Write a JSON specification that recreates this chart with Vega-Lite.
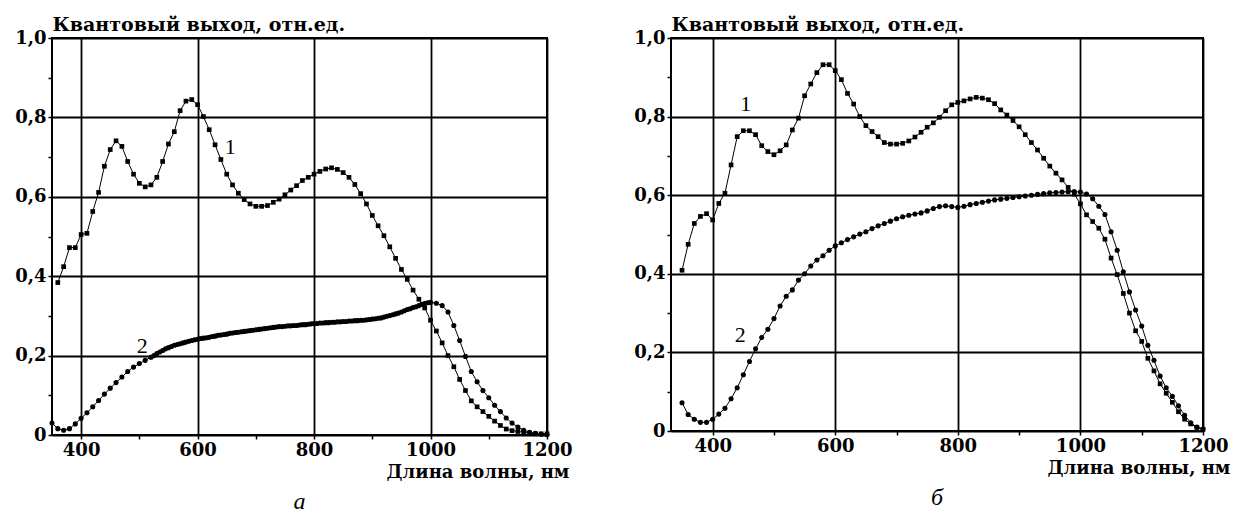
{
"$schema": "https://vega.github.io/schema/vega-lite/v6.json",
"background": "white",
"padding": {"left": 13, "top": 14, "right": 0, "bottom": 0},
"spacing": 58,
"config": {
  "view": {"stroke": "black", "strokeWidth": 2},
  "axis": {"domain": false, "tickColor": "black", "tickSize": 4, "tickWidth": 1.5, "gridColor": "black", "gridWidth": 1.8, "labelFont": "DejaVu Serif", "labelFontWeight": "bold", "labelFontSize": 18, "labelColor": "black", "labelPadding": 2, "titleFont": "DejaVu Serif", "titleFontWeight": "bold", "titleFontSize": 18, "titleColor": "black"},
  "title": {"font": "Liberation Serif", "fontStyle": "italic", "fontWeight": "normal", "fontSize": 24, "color": "black", "orient": "bottom", "anchor": "middle", "offset": 9}
},
"datasets": {
  "a": [
    {"s":"1","wl":360,"q":0.384},{"s":"1","wl":370,"q":0.424},{"s":"1","wl":380,"q":0.472},{"s":"1","wl":390,"q":0.472},{"s":"1","wl":400,"q":0.505},{"s":"1","wl":410,"q":0.508},{"s":"1","wl":420,"q":0.563},{"s":"1","wl":430,"q":0.611},{"s":"1","wl":440,"q":0.677},{"s":"1","wl":450,"q":0.719},{"s":"1","wl":460,"q":0.741},{"s":"1","wl":470,"q":0.727},{"s":"1","wl":480,"q":0.689},{"s":"1","wl":490,"q":0.657},{"s":"1","wl":500,"q":0.634},{"s":"1","wl":510,"q":0.625},{"s":"1","wl":520,"q":0.63},{"s":"1","wl":530,"q":0.649},{"s":"1","wl":540,"q":0.689},{"s":"1","wl":550,"q":0.733},{"s":"1","wl":560,"q":0.764},{"s":"1","wl":570,"q":0.817},{"s":"1","wl":580,"q":0.841},{"s":"1","wl":590,"q":0.845},{"s":"1","wl":600,"q":0.832},{"s":"1","wl":610,"q":0.802},{"s":"1","wl":620,"q":0.769},{"s":"1","wl":630,"q":0.731},{"s":"1","wl":640,"q":0.694},{"s":"1","wl":650,"q":0.657},{"s":"1","wl":660,"q":0.63},{"s":"1","wl":670,"q":0.609},{"s":"1","wl":680,"q":0.593},{"s":"1","wl":690,"q":0.582},{"s":"1","wl":700,"q":0.576},{"s":"1","wl":710,"q":0.576},{"s":"1","wl":720,"q":0.578},{"s":"1","wl":730,"q":0.586},{"s":"1","wl":740,"q":0.594},{"s":"1","wl":750,"q":0.605},{"s":"1","wl":760,"q":0.617},{"s":"1","wl":770,"q":0.628},{"s":"1","wl":780,"q":0.641},{"s":"1","wl":790,"q":0.649},{"s":"1","wl":800,"q":0.657},{"s":"1","wl":810,"q":0.664},{"s":"1","wl":820,"q":0.67},{"s":"1","wl":830,"q":0.673},{"s":"1","wl":840,"q":0.669},{"s":"1","wl":850,"q":0.661},{"s":"1","wl":860,"q":0.649},{"s":"1","wl":870,"q":0.631},{"s":"1","wl":880,"q":0.608},{"s":"1","wl":890,"q":0.582},{"s":"1","wl":900,"q":0.553},{"s":"1","wl":910,"q":0.527},{"s":"1","wl":920,"q":0.502},{"s":"1","wl":930,"q":0.474},{"s":"1","wl":940,"q":0.445},{"s":"1","wl":950,"q":0.417},{"s":"1","wl":960,"q":0.392},{"s":"1","wl":970,"q":0.365},{"s":"1","wl":980,"q":0.342},{"s":"1","wl":990,"q":0.32},{"s":"1","wl":1000,"q":0.289},{"s":"1","wl":1010,"q":0.262},{"s":"1","wl":1020,"q":0.232},{"s":"1","wl":1030,"q":0.2},{"s":"1","wl":1040,"q":0.172},{"s":"1","wl":1050,"q":0.14},{"s":"1","wl":1060,"q":0.112},{"s":"1","wl":1070,"q":0.086},{"s":"1","wl":1080,"q":0.071},{"s":"1","wl":1090,"q":0.059},{"s":"1","wl":1100,"q":0.047},{"s":"1","wl":1110,"q":0.035},{"s":"1","wl":1120,"q":0.024},{"s":"1","wl":1130,"q":0.015},{"s":"1","wl":1140,"q":0.011},{"s":"1","wl":1150,"q":0.009},{"s":"1","wl":1160,"q":0.007},{"s":"1","wl":1170,"q":0.005},{"s":"1","wl":1180,"q":0.003},{"s":"1","wl":1190,"q":0.003},{"s":"1","wl":1200,"q":0.003},
    {"s":"2","wl":350,"q":0.03},{"s":"2","wl":360,"q":0.016},{"s":"2","wl":370,"q":0.012},{"s":"2","wl":380,"q":0.016},{"s":"2","wl":390,"q":0.028},{"s":"2","wl":400,"q":0.042},{"s":"2","wl":410,"q":0.056},{"s":"2","wl":420,"q":0.071},{"s":"2","wl":430,"q":0.087},{"s":"2","wl":440,"q":0.103},{"s":"2","wl":450,"q":0.118},{"s":"2","wl":460,"q":0.132},{"s":"2","wl":470,"q":0.146},{"s":"2","wl":480,"q":0.16},{"s":"2","wl":490,"q":0.171},{"s":"2","wl":500,"q":0.18},{"s":"2","wl":510,"q":0.188},{"s":"2","wl":520,"q":0.196},
    {"s":"2","wl":525,"q":0.2},{"s":"2","wl":530,"q":0.205},{"s":"2","wl":535,"q":0.209},{"s":"2","wl":540,"q":0.213},{"s":"2","wl":545,"q":0.217},{"s":"2","wl":550,"q":0.22},{"s":"2","wl":555,"q":0.223},{"s":"2","wl":560,"q":0.226},{"s":"2","wl":565,"q":0.228},{"s":"2","wl":570,"q":0.23},{"s":"2","wl":575,"q":0.232},{"s":"2","wl":580,"q":0.234},{"s":"2","wl":585,"q":0.236},{"s":"2","wl":590,"q":0.238},{"s":"2","wl":595,"q":0.24},{"s":"2","wl":600,"q":0.241},{"s":"2","wl":605,"q":0.243},{"s":"2","wl":610,"q":0.244},{"s":"2","wl":615,"q":0.245},{"s":"2","wl":620,"q":0.246},{"s":"2","wl":625,"q":0.248},{"s":"2","wl":630,"q":0.249},{"s":"2","wl":635,"q":0.251},{"s":"2","wl":640,"q":0.252},{"s":"2","wl":645,"q":0.253},{"s":"2","wl":650,"q":0.254},{"s":"2","wl":655,"q":0.256},{"s":"2","wl":660,"q":0.257},{"s":"2","wl":665,"q":0.258},{"s":"2","wl":670,"q":0.259},{"s":"2","wl":675,"q":0.26},{"s":"2","wl":680,"q":0.261},{"s":"2","wl":685,"q":0.262},{"s":"2","wl":690,"q":0.263},{"s":"2","wl":695,"q":0.264},{"s":"2","wl":700,"q":0.265},{"s":"2","wl":705,"q":0.266},{"s":"2","wl":710,"q":0.267},{"s":"2","wl":715,"q":0.268},{"s":"2","wl":720,"q":0.269},{"s":"2","wl":725,"q":0.27},{"s":"2","wl":730,"q":0.271},{"s":"2","wl":735,"q":0.272},{"s":"2","wl":740,"q":0.273},{"s":"2","wl":745,"q":0.273},{"s":"2","wl":750,"q":0.274},{"s":"2","wl":755,"q":0.275},{"s":"2","wl":760,"q":0.275},{"s":"2","wl":765,"q":0.276},{"s":"2","wl":770,"q":0.276},{"s":"2","wl":775,"q":0.277},{"s":"2","wl":780,"q":0.278},{"s":"2","wl":785,"q":0.278},{"s":"2","wl":790,"q":0.279},{"s":"2","wl":795,"q":0.28},{"s":"2","wl":800,"q":0.281},{"s":"2","wl":805,"q":0.281},{"s":"2","wl":810,"q":0.282},{"s":"2","wl":815,"q":0.282},{"s":"2","wl":820,"q":0.283},{"s":"2","wl":825,"q":0.283},{"s":"2","wl":830,"q":0.284},{"s":"2","wl":835,"q":0.284},{"s":"2","wl":840,"q":0.285},{"s":"2","wl":845,"q":0.285},{"s":"2","wl":850,"q":0.286},{"s":"2","wl":855,"q":0.286},{"s":"2","wl":860,"q":0.287},{"s":"2","wl":865,"q":0.287},{"s":"2","wl":870,"q":0.288},{"s":"2","wl":875,"q":0.288},{"s":"2","wl":880,"q":0.289},{"s":"2","wl":885,"q":0.289},{"s":"2","wl":890,"q":0.29},{"s":"2","wl":895,"q":0.291},{"s":"2","wl":900,"q":0.292},{"s":"2","wl":905,"q":0.293},{"s":"2","wl":910,"q":0.294},{"s":"2","wl":915,"q":0.295},{"s":"2","wl":920,"q":0.297},{"s":"2","wl":925,"q":0.299},{"s":"2","wl":930,"q":0.301},{"s":"2","wl":935,"q":0.303},{"s":"2","wl":940,"q":0.305},{"s":"2","wl":945,"q":0.307},{"s":"2","wl":950,"q":0.31},{"s":"2","wl":955,"q":0.313},{"s":"2","wl":960,"q":0.316},{"s":"2","wl":965,"q":0.318},{"s":"2","wl":970,"q":0.321},{"s":"2","wl":975,"q":0.323},{"s":"2","wl":980,"q":0.326},{"s":"2","wl":985,"q":0.329},{"s":"2","wl":990,"q":0.331},{"s":"2","wl":995,"q":0.333},{"s":"2","wl":1000,"q":0.334},
    {"s":"2","wl":1010,"q":0.332},{"s":"2","wl":1020,"q":0.326},{"s":"2","wl":1030,"q":0.31},{"s":"2","wl":1040,"q":0.276},{"s":"2","wl":1050,"q":0.238},{"s":"2","wl":1060,"q":0.198},{"s":"2","wl":1070,"q":0.16},{"s":"2","wl":1080,"q":0.134},{"s":"2","wl":1090,"q":0.112},{"s":"2","wl":1100,"q":0.094},{"s":"2","wl":1110,"q":0.075},{"s":"2","wl":1120,"q":0.059},{"s":"2","wl":1130,"q":0.043},{"s":"2","wl":1140,"q":0.03},{"s":"2","wl":1150,"q":0.02},{"s":"2","wl":1160,"q":0.012},{"s":"2","wl":1170,"q":0.007},{"s":"2","wl":1180,"q":0.004},{"s":"2","wl":1190,"q":0.002},{"s":"2","wl":1200,"q":0.001}
  ],
  "b": [
    {"s":"1","wl":350,"q":0.409},{"s":"1","wl":360,"q":0.475},{"s":"1","wl":370,"q":0.528},{"s":"1","wl":380,"q":0.546},{"s":"1","wl":390,"q":0.553},{"s":"1","wl":400,"q":0.537},{"s":"1","wl":410,"q":0.579},{"s":"1","wl":420,"q":0.605},{"s":"1","wl":430,"q":0.677},{"s":"1","wl":440,"q":0.749},{"s":"1","wl":450,"q":0.764},{"s":"1","wl":460,"q":0.764},{"s":"1","wl":470,"q":0.754},{"s":"1","wl":480,"q":0.726},{"s":"1","wl":490,"q":0.711},{"s":"1","wl":500,"q":0.703},{"s":"1","wl":510,"q":0.713},{"s":"1","wl":520,"q":0.728},{"s":"1","wl":530,"q":0.766},{"s":"1","wl":540,"q":0.796},{"s":"1","wl":550,"q":0.853},{"s":"1","wl":560,"q":0.883},{"s":"1","wl":570,"q":0.912},{"s":"1","wl":580,"q":0.932},{"s":"1","wl":590,"q":0.932},{"s":"1","wl":600,"q":0.917},{"s":"1","wl":610,"q":0.894},{"s":"1","wl":620,"q":0.859},{"s":"1","wl":630,"q":0.832},{"s":"1","wl":640,"q":0.8},{"s":"1","wl":650,"q":0.777},{"s":"1","wl":660,"q":0.762},{"s":"1","wl":670,"q":0.749},{"s":"1","wl":680,"q":0.734},{"s":"1","wl":690,"q":0.73},{"s":"1","wl":700,"q":0.73},{"s":"1","wl":710,"q":0.732},{"s":"1","wl":720,"q":0.738},{"s":"1","wl":730,"q":0.748},{"s":"1","wl":740,"q":0.76},{"s":"1","wl":750,"q":0.773},{"s":"1","wl":760,"q":0.784},{"s":"1","wl":770,"q":0.798},{"s":"1","wl":780,"q":0.815},{"s":"1","wl":790,"q":0.83},{"s":"1","wl":800,"q":0.836},{"s":"1","wl":810,"q":0.84},{"s":"1","wl":820,"q":0.845},{"s":"1","wl":830,"q":0.849},{"s":"1","wl":840,"q":0.847},{"s":"1","wl":850,"q":0.843},{"s":"1","wl":860,"q":0.833},{"s":"1","wl":870,"q":0.817},{"s":"1","wl":880,"q":0.804},{"s":"1","wl":890,"q":0.79},{"s":"1","wl":900,"q":0.774},{"s":"1","wl":910,"q":0.754},{"s":"1","wl":920,"q":0.734},{"s":"1","wl":930,"q":0.715},{"s":"1","wl":940,"q":0.694},{"s":"1","wl":950,"q":0.674},{"s":"1","wl":960,"q":0.656},{"s":"1","wl":970,"q":0.639},{"s":"1","wl":980,"q":0.62},{"s":"1","wl":990,"q":0.603},{"s":"1","wl":1000,"q":0.578},{"s":"1","wl":1010,"q":0.55},{"s":"1","wl":1020,"q":0.533},{"s":"1","wl":1030,"q":0.516},{"s":"1","wl":1040,"q":0.488},{"s":"1","wl":1050,"q":0.44},{"s":"1","wl":1060,"q":0.398},{"s":"1","wl":1070,"q":0.35},{"s":"1","wl":1080,"q":0.3},{"s":"1","wl":1090,"q":0.255},{"s":"1","wl":1100,"q":0.228},{"s":"1","wl":1110,"q":0.185},{"s":"1","wl":1120,"q":0.153},{"s":"1","wl":1130,"q":0.12},{"s":"1","wl":1140,"q":0.096},{"s":"1","wl":1150,"q":0.073},{"s":"1","wl":1160,"q":0.049},{"s":"1","wl":1170,"q":0.03},{"s":"1","wl":1180,"q":0.018},{"s":"1","wl":1190,"q":0.009},{"s":"1","wl":1200,"q":0.004},
    {"s":"2","wl":350,"q":0.072},{"s":"2","wl":360,"q":0.042},{"s":"2","wl":370,"q":0.03},{"s":"2","wl":380,"q":0.022},{"s":"2","wl":390,"q":0.022},{"s":"2","wl":400,"q":0.03},{"s":"2","wl":410,"q":0.043},{"s":"2","wl":420,"q":0.058},{"s":"2","wl":430,"q":0.082},{"s":"2","wl":440,"q":0.11},{"s":"2","wl":450,"q":0.143},{"s":"2","wl":460,"q":0.177},{"s":"2","wl":470,"q":0.209},{"s":"2","wl":480,"q":0.238},{"s":"2","wl":490,"q":0.259},{"s":"2","wl":500,"q":0.286},{"s":"2","wl":510,"q":0.318},{"s":"2","wl":520,"q":0.343},{"s":"2","wl":530,"q":0.359},{"s":"2","wl":540,"q":0.384},{"s":"2","wl":550,"q":0.4},{"s":"2","wl":560,"q":0.42},{"s":"2","wl":570,"q":0.435},{"s":"2","wl":580,"q":0.446},{"s":"2","wl":590,"q":0.46},{"s":"2","wl":600,"q":0.471},{"s":"2","wl":610,"q":0.479},{"s":"2","wl":620,"q":0.487},{"s":"2","wl":630,"q":0.494},{"s":"2","wl":640,"q":0.501},{"s":"2","wl":650,"q":0.507},{"s":"2","wl":660,"q":0.515},{"s":"2","wl":670,"q":0.522},{"s":"2","wl":680,"q":0.528},{"s":"2","wl":690,"q":0.534},{"s":"2","wl":700,"q":0.54},{"s":"2","wl":710,"q":0.545},{"s":"2","wl":720,"q":0.549},{"s":"2","wl":730,"q":0.552},{"s":"2","wl":740,"q":0.555},{"s":"2","wl":750,"q":0.56},{"s":"2","wl":760,"q":0.566},{"s":"2","wl":770,"q":0.571},{"s":"2","wl":780,"q":0.573},{"s":"2","wl":790,"q":0.571},{"s":"2","wl":800,"q":0.569},{"s":"2","wl":810,"q":0.572},{"s":"2","wl":820,"q":0.576},{"s":"2","wl":830,"q":0.579},{"s":"2","wl":840,"q":0.582},{"s":"2","wl":850,"q":0.585},{"s":"2","wl":860,"q":0.588},{"s":"2","wl":870,"q":0.59},{"s":"2","wl":880,"q":0.592},{"s":"2","wl":890,"q":0.594},{"s":"2","wl":900,"q":0.596},{"s":"2","wl":910,"q":0.598},{"s":"2","wl":920,"q":0.6},{"s":"2","wl":930,"q":0.602},{"s":"2","wl":940,"q":0.604},{"s":"2","wl":950,"q":0.606},{"s":"2","wl":960,"q":0.607},{"s":"2","wl":970,"q":0.608},{"s":"2","wl":980,"q":0.609},{"s":"2","wl":990,"q":0.609},{"s":"2","wl":1000,"q":0.608},{"s":"2","wl":1010,"q":0.603},{"s":"2","wl":1020,"q":0.591},{"s":"2","wl":1030,"q":0.572},{"s":"2","wl":1040,"q":0.551},{"s":"2","wl":1050,"q":0.507},{"s":"2","wl":1060,"q":0.46},{"s":"2","wl":1070,"q":0.405},{"s":"2","wl":1080,"q":0.354},{"s":"2","wl":1090,"q":0.308},{"s":"2","wl":1100,"q":0.267},{"s":"2","wl":1110,"q":0.218},{"s":"2","wl":1120,"q":0.18},{"s":"2","wl":1130,"q":0.14},{"s":"2","wl":1140,"q":0.11},{"s":"2","wl":1150,"q":0.088},{"s":"2","wl":1160,"q":0.064},{"s":"2","wl":1170,"q":0.04},{"s":"2","wl":1180,"q":0.021},{"s":"2","wl":1190,"q":0.01},{"s":"2","wl":1200,"q":0.005}
  ],
  "la": [{"t":"1","wl":656,"q":0.725},{"t":"2","wl":505,"q":0.224}],
  "lb": [{"t":"1","wl":454,"q":0.832},{"t":"2","wl":445,"q":0.244}]
},
"hconcat": [
  {
    "width": 495, "height": 397,
    "data": {"name": "a"},
    "title": {"text": "а"},
    "encoding": {
      "x": {"field": "wl", "type": "quantitative", "scale": {"domain": [350, 1200], "nice": false, "zero": false},
        "axis": {"values": [400,500,600,700,800,900,1000,1100,1200], "format": "d", "labelFlush": false, "labelExpr": "datum.value % 200 === 0 ? datum.label : ''", "gridOpacity": {"condition": {"test": "datum.value % 200 === 0", "value": 1}, "value": 0}, "title": "Длина волны, нм", "titleX": 517, "titleY": 42, "titleAlign": "right", "titleBaseline": "alphabetic"}},
      "y": {"field": "q", "type": "quantitative", "scale": {"domain": [0, 1], "nice": false},
        "axis": {"values": [0,0.1,0.2,0.3,0.4,0.5,0.6,0.7,0.8,0.9,1.0], "labelOverlap": false, "labelFlush": false, "labelExpr": "round(datum.value*10) % 2 === 0 ? (datum.value === 0 ? '0' : replace(format(datum.value, '.1f'), '.', ',')) : ''", "gridOpacity": {"condition": {"test": "round(datum.value*10) % 2 === 0", "value": 1}, "value": 0}, "title": "Квантовый выход, отн.ед.", "titleFontSize": 19, "titleAngle": 0, "titleX": 0, "titleY": -8, "titleAlign": "left", "titleBaseline": "alphabetic"}}
    },
    "layer": [
      {"mark": {"type": "line", "color": "black", "strokeWidth": 1}, "encoding": {"detail": {"field": "s", "type": "nominal"}}},
      {"mark": {"type": "point", "filled": true, "color": "black", "opacity": 1}, "encoding": {"shape": {"field": "s", "type": "nominal", "scale": {"domain": ["1","2"], "range": ["square","circle"]}, "legend": null}, "size": {"field": "s", "type": "nominal", "scale": {"domain": ["1","2"], "range": [22, 26]}, "legend": null}}},
      {"data": {"name": "la"}, "mark": {"type": "text", "font": "Liberation Serif", "fontSize": 22, "color": "black"}, "encoding": {"text": {"field": "t", "type": "nominal"}}}
    ]
  },
  {
    "width": 532, "height": 393,
    "data": {"name": "b"},
    "title": {"text": "б"},
    "encoding": {
      "x": {"field": "wl", "type": "quantitative", "scale": {"domain": [332, 1200], "nice": false, "zero": false},
        "axis": {"values": [400,500,600,700,800,900,1000,1100,1200], "format": "d", "labelFlush": false, "labelExpr": "datum.value % 200 === 0 ? datum.label : ''", "gridOpacity": {"condition": {"test": "datum.value % 200 === 0", "value": 1}, "value": 0}, "title": "Длина волны, нм", "titleX": 559, "titleY": 42, "titleAlign": "right", "titleBaseline": "alphabetic"}},
      "y": {"field": "q", "type": "quantitative", "scale": {"domain": [0, 1], "nice": false},
        "axis": {"values": [0,0.1,0.2,0.3,0.4,0.5,0.6,0.7,0.8,0.9,1.0], "labelOverlap": false, "labelFlush": false, "labelExpr": "round(datum.value*10) % 2 === 0 ? (datum.value === 0 ? '0' : replace(format(datum.value, '.1f'), '.', ',')) : ''", "gridOpacity": {"condition": {"test": "round(datum.value*10) % 2 === 0", "value": 1}, "value": 0}, "title": "Квантовый выход, отн.ед.", "titleFontSize": 19, "titleAngle": 0, "titleX": 0, "titleY": -8, "titleAlign": "left", "titleBaseline": "alphabetic"}}
    },
    "layer": [
      {"mark": {"type": "line", "color": "black", "strokeWidth": 1}, "encoding": {"detail": {"field": "s", "type": "nominal"}}},
      {"mark": {"type": "point", "filled": true, "color": "black", "opacity": 1}, "encoding": {"shape": {"field": "s", "type": "nominal", "scale": {"domain": ["1","2"], "range": ["square","circle"]}, "legend": null}, "size": {"field": "s", "type": "nominal", "scale": {"domain": ["1","2"], "range": [24, 34]}, "legend": null}}},
      {"data": {"name": "lb"}, "mark": {"type": "text", "font": "Liberation Serif", "fontSize": 22, "color": "black"}, "encoding": {"text": {"field": "t", "type": "nominal"}}}
    ]
  }
]
}
